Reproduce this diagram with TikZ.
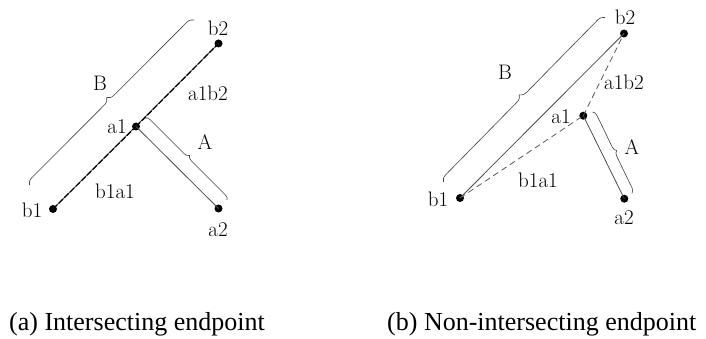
\documentclass[tikz,border=0pt]{standalone}
\usepackage{fontspec}
\newfontfamily\capfont{Liberation Serif}
\usetikzlibrary{decorations.pathreplacing}
\begin{document}
\begin{tikzpicture}[x=1pt,y=-1pt,
  dot/.style={circle,fill=black,inner sep=0pt,minimum size=8pt},
  lbl/.style={inner sep=0pt,font=\fontsize{21}{25}\selectfont},
  seg/.style={draw=black!70,line width=0.8pt},
  dseg/.style={draw=black!65,line width=0.8pt,dash pattern=on 6pt off 4pt},
  bracebig/.style={draw=black!75,line width=0.6pt,decorate,decoration={brace,amplitude=7pt}},
  bracesmall/.style={draw=black!75,line width=0.6pt,decorate,decoration={brace,amplitude=5pt}},
  captext/.style={inner sep=0pt,anchor=base west,font=\capfont\fontsize{26}{30}\selectfont}]
\path[use as bounding box] (0,0) rectangle (706,339);

% ---------- (a) ----------
\node[dot] (lb1) at (53,209) {};
\node[dot] (lb2) at (218.5,43.5) {};
\node[dot] (la1) at (136,126.5) {};
\node[dot] (la2) at (218.5,208.5) {};
\draw[seg] (lb1.center) -- (lb2.center);
\draw[draw=black,line width=1.2pt,dash pattern=on 6pt off 2pt] (lb1.center) -- (la1.center);
\draw[draw=black,line width=1.2pt,dash pattern=on 6pt off 2pt] (la1.center) -- (lb2.center);
\draw[seg] (la1.center) -- (la2.center);
\coordinate (lBs) at (29.5,185);
\coordinate (lBe) at (194,20);
\draw[bracebig] (lBs) -- (lBe);
\coordinate (lAs) at (145,118);
\coordinate (lAe) at (227,200);
\draw[bracesmall] (lAs) -- (lAe);
\node[lbl] (tlb1) at (32,210) {b1};
\node[lbl] (tlb2) at (218,28) {b2};
\node[lbl] (tla1) at (117,127) {a1};
\node[lbl] (tla2) at (218,230) {a2};
\node[lbl] (tlab) at (208,93) {a1b2};
\node[lbl] (tlba) at (115,191) {b1a1};
\node[lbl] (tlB) at (100,83) {B};
\node[lbl] (tlA) at (205,142) {A};

% ---------- (b) ----------
\node[dot] (rb1) at (460,198) {};
\node[dot] (rb2) at (624,33.5) {};
\node[dot] (ra1) at (583.3,115.7) {};
\node[dot] (ra2) at (624.3,198.7) {};
\draw[seg] (rb1.center) -- (rb2.center);
\draw[dseg] (rb1.center) -- (ra1.center);
\draw[dseg] (ra1.center) -- (rb2.center);
\draw[seg] (ra1.center) -- (ra2.center);
\coordinate (rBs) at (443.5,182);
\coordinate (rBe) at (605,17.5);
\draw[bracebig] (rBs) -- (rBe);
\coordinate (rAs) at (592.5,112);
\coordinate (rAe) at (632,193.5);
\draw[bracesmall] (rAs) -- (rAe);
\node[lbl] (trb1) at (438,199) {b1};
\node[lbl] (trb2) at (625,17) {b2};
\node[lbl] (tra1) at (561,117) {a1};
\node[lbl] (tra2) at (624,218) {a2};
\node[lbl] (trab) at (624,82) {a1b2};
\node[lbl] (trba) at (538,180) {b1a1};
\node[lbl] (trB) at (505,72) {B};
\node[lbl] (trA) at (632,147) {A};

% ---------- captions ----------
\node[captext] (capa) at (9,330) {(a) Intersecting endpoint};
\node[captext] (capb) at (387,330) {(b) Non-intersecting endpoint};
\end{tikzpicture}
\end{document}
